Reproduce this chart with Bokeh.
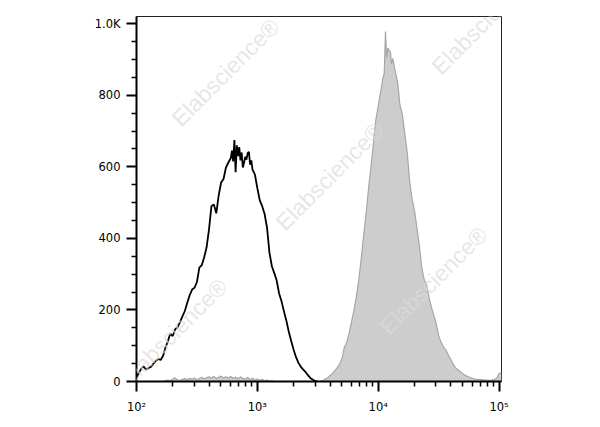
from bokeh.plotting import figure
from bokeh.models import Range1d, FixedTicker, Label
from bokeh.embed import file_html
from bokeh.resources import INLINE

# ---------------- data (log10 of fluorescence channel, event counts) ----------------
black_exp = [2.00, 2.02, 2.04, 2.06, 2.08, 2.10, 2.12, 2.14, 2.16, 2.18, 2.20, 2.22, 2.24, 2.26,
             2.28, 2.30, 2.32, 2.34, 2.36, 2.38, 2.40, 2.42, 2.44, 2.46, 2.48, 2.50, 2.52, 2.54,
             2.56, 2.58, 2.60, 2.62, 2.64, 2.66, 2.68, 2.70, 2.72, 2.74, 2.76, 2.78, 2.79, 2.80,
             2.81, 2.82, 2.83, 2.84, 2.85, 2.86, 2.87, 2.88, 2.89, 2.90, 2.91, 2.92, 2.93, 2.94,
             2.95, 2.96, 2.98, 3.00, 3.02, 3.04, 3.06, 3.08, 3.10, 3.12, 3.14, 3.16, 3.18, 3.20,
             3.22, 3.24, 3.26, 3.28, 3.30, 3.32, 3.34, 3.36, 3.38, 3.40, 3.42, 3.44, 3.46, 3.48, 3.50]
black_val = [12, 24, 36, 42, 33, 38, 41, 50, 58, 63, 60, 72, 95, 113,
             134, 127, 146, 152, 166, 182, 197, 220, 241, 257, 262, 278, 318, 325,
             347, 375, 425, 490, 495, 470, 520, 556, 566, 598, 612, 624, 645, 615,
             675, 585, 660, 630, 655, 618, 640, 598, 612, 628, 620, 638, 642, 606,
             618, 592, 578, 540, 506, 490, 468, 430, 360, 322, 303, 282, 246, 224,
             196, 170, 139, 113, 89, 68, 52, 41, 33, 26, 17, 9, 5, 1, 0]

gray_exp = [2.22, 2.24, 2.26, 2.28, 2.30, 2.32, 2.34, 2.36, 2.38, 2.40, 2.42, 2.44, 2.46, 2.48,
            2.50, 2.52, 2.54, 2.56, 2.58, 2.60, 2.62, 2.64, 2.66, 2.68, 2.70, 2.72, 2.74, 2.76,
            2.78, 2.80, 2.82, 2.84, 2.86, 2.88, 2.90, 2.92, 2.94, 2.96, 2.98, 3.00, 3.02, 3.04,
            3.06, 3.08, 3.10, 3.12, 3.14, 3.20, 3.30, 3.40, 3.50, 3.52, 3.54, 3.56, 3.58, 3.60,
            3.62, 3.64, 3.66, 3.68, 3.70, 3.72, 3.74, 3.76, 3.78, 3.80, 3.82, 3.84, 3.86, 3.88,
            3.90, 3.92, 3.94, 3.96, 3.98, 4.00, 4.02, 4.04, 4.05, 4.06, 4.07, 4.08, 4.09, 4.10,
            4.11, 4.12, 4.14, 4.16, 4.18, 4.20, 4.22, 4.24, 4.26, 4.28, 4.30, 4.32, 4.34, 4.36,
            4.38, 4.40, 4.42, 4.44, 4.46, 4.48, 4.50, 4.52, 4.54, 4.56, 4.58, 4.60, 4.62, 4.64,
            4.66, 4.68, 4.70, 4.72, 4.74, 4.76, 4.78, 4.80, 4.82, 4.84, 4.86, 4.88, 4.90, 4.92,
            4.94, 4.96, 4.98, 5.00, 5.02]
gray_val = [0, 2, 4, 2, 7, 10, 4, 3, 6, 8, 4, 9, 6, 10,
            5, 8, 12, 7, 11, 13, 9, 14, 8, 12, 15, 10, 13, 9,
            14, 9, 12, 7, 13, 9, 6, 11, 5, 9, 4, 7, 3, 6,
            2, 4, 1, 2, 0, 0, 0, 0, 0, 1, 3, 6, 10, 16,
            22, 30, 38, 48, 64, 96, 110, 136, 168, 200, 240, 286, 345, 410,
            470, 540, 600, 665, 730, 770, 810, 850, 862, 978, 905, 932, 926, 922,
            888, 902, 868, 838, 772, 745, 692, 640, 560, 510, 478, 430, 380, 320,
            285, 270, 235, 208, 185, 162, 128, 110, 97, 88, 74, 62, 49, 38,
            33, 27, 22, 17, 14, 11, 9, 7, 6, 5, 5, 4, 4, 3,
            4, 6, 9, 22, 24]

x_major = [100, 1000, 10000, 100000]
x_minor = [200, 300, 400, 500, 600, 700, 800, 900,
           2000, 3000, 4000, 5000, 6000, 7000, 8000, 9000,
           20000, 30000, 40000, 50000, 60000, 70000, 80000, 90000]
x_labels = {100: "10²", 1000: "10³", 10000: "10⁴", 100000: "10⁵"}
y_major = [0, 200, 400, 600, 800, 1000]
y_minor = [50, 100, 150, 250, 300, 350, 450, 500, 550, 650, 700, 750, 850, 900, 950]
y_labels = {1000: "1.0K"}

x_lo_exp, x_hi_exp = 2.0, 5.02
y_lo, y_hi = 0, 1020

watermark_text = "Elabscience®"
# watermark centres in picture pixels (those lying over the plot area)
wm_px = [225, 329, 433, 173, 485]
wm_py = [72, 176, 280, 332, 20]

# ---------------- figure ----------------
FW, FH = 365, 365
LEFT, TOP = 136, 16
p = figure(frame_width=FW, frame_height=FH, x_axis_type="log",
           x_range=Range1d(10 ** x_lo_exp, 10 ** x_hi_exp), y_range=Range1d(y_lo, y_hi),
           output_backend="svg", toolbar_location=None,
           min_border_left=LEFT, min_border_right=60, min_border_top=TOP, min_border_bottom=38,
           background_fill_color="white", border_fill_color="white")
p.grid.visible = False
p.outline_line_color = "#222222"
p.outline_line_width = 1

gx = [10 ** e for e in gray_exp]
bx = [10 ** e for e in black_exp]
p.varea(x=gx, y1=[0] * len(gx), y2=gray_val, fill_color="#cdcdcd")
p.line(x=gx, y=gray_val, line_color="#a6a6a6", line_width=1.2)
p.line(x=bx, y=black_val, line_color="black", line_width=1.8)

for ax in (p.xaxis[0], p.yaxis[0]):
    ax.axis_line_width = 2
    ax.axis_line_color = "black"
    ax.major_tick_line_width = 2
    ax.minor_tick_line_width = 1.5
    ax.major_tick_in = 0
    ax.major_tick_out = 10
    ax.minor_tick_in = 0
    ax.minor_tick_out = 5
    ax.major_label_text_font = "DejaVu Sans"
    ax.major_label_text_font_size = "11.5px"
    ax.major_label_text_color = "black"

p.xaxis[0].ticker = FixedTicker(ticks=x_major, minor_ticks=x_minor)
p.xaxis[0].major_label_overrides = x_labels
p.xaxis[0].major_label_standoff = 8

p.yaxis[0].ticker = FixedTicker(ticks=y_major, minor_ticks=y_minor)
p.yaxis[0].major_label_overrides = y_labels
p.yaxis[0].major_label_standoff = 6

# watermark (picture px -> data coordinates)
for px, py in zip(wm_px, wm_py):
    xe = x_lo_exp + (px - LEFT) / FW * (x_hi_exp - x_lo_exp)
    yv = y_hi - (py - TOP) / FH * (y_hi - y_lo)
    p.add_layout(Label(x=10 ** xe, y=yv, text=watermark_text, angle=45, angle_units="deg",
                       text_align="center", text_baseline="middle",
                       text_font="Liberation Sans", text_font_size="23px",
                       text_color="#dcdcdc", text_alpha=0.7, level="overlay"))

open("out.html", "w").write(file_html(p, INLINE))
